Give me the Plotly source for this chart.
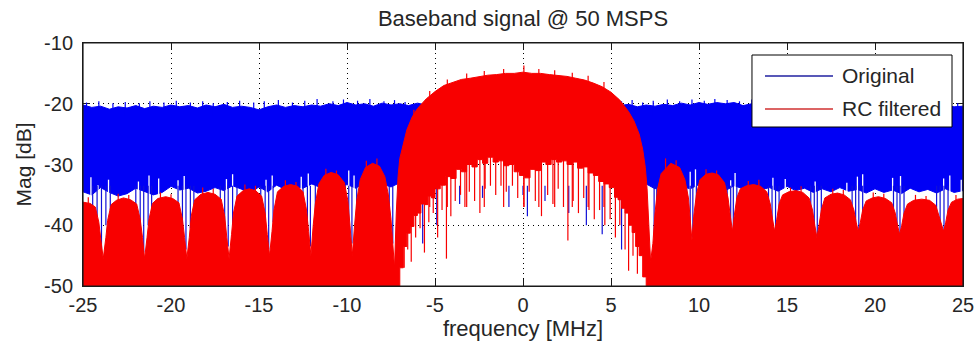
import plotly.graph_objects as go

# ---------------- data ----------------
blue_x = [-25.0, -24.5, -24.0, -23.5, -23.0, -22.5, -22.0, -21.5, -21.0, -20.5, -20.0, -19.5, -19.0, -18.5,
          -18.0, -17.5, -17.0, -16.5, -16.0, -15.5, -15.0, -14.5, -14.0, -13.5, -13.0, -12.5, -12.0, -11.5,
          -11.0, -10.5, -10.0, -9.5, -9.0, -8.5, -8.0, -7.5, -7.0, -6.5, -6.0, -5.5, -5.0, -4.5, -4.0, -3.5,
          -3.0, -2.5, -2.0, -1.5, -1.0, -0.5, 0.0, 0.5, 1.0, 1.5, 2.0, 2.5, 3.0, 3.5, 4.0, 4.5, 5.0, 5.5, 6.0,
          6.5, 7.0, 7.5, 8.0, 8.5, 9.0, 9.5, 10.0, 10.5, 11.0, 11.5, 12.0, 12.5, 13.0, 13.5, 14.0, 14.5, 15.0,
          15.5, 16.0, 16.5, 17.0, 17.5, 18.0, 18.5, 19.0, 19.5, 20.0, 20.5, 21.0, 21.5, 22.0, 22.5, 23.0, 23.5,
          24.0, 24.5, 25.0]

blue_top = [-20.2, -20.6, -20.4, -20.9, -20.5, -20.7, -20.3, -20.8, -20.4, -20.6, -20.2, -20.5, -20.3, -20.7,
            -20.2, -20.5, -20.1, -20.6, -20.4, -20.6, -21.0, -20.5, -20.2, -20.6, -20.3, -20.5, -20.2, -20.4,
            -20.0, -20.3, -19.8, -20.2, -20.0, -20.4, -19.9, -20.2, -20.0, -20.3, -19.9, -20.2, -19.8, -20.1,
            -20.3, -20.0, -20.4, -20.1, -20.3, -20.0, -20.2, -20.4, -20.0, -20.3, -20.1, -20.4, -20.0, -20.2,
            -20.3, -20.1, -20.4, -20.2, -20.0, -20.3, -20.1, -20.5, -20.2, -20.4, -20.1, -20.3, -19.9, -20.2,
            -19.8, -20.1, -19.8, -20.0, -19.8, -20.3, -20.0, -20.4, -20.2, -20.5, -20.3, -20.6, -20.2, -20.5,
            -20.1, -20.5, -20.3, -20.6, -20.4, -20.6, -20.2, -20.5, -20.4, -20.7, -20.3, -20.6, -20.5, -20.7,
            -20.3, -20.5, -20.4]

blue_bottom = [-34.5, -35.0, -33.8, -34.6, -35.2, -34.8, -33.9, -34.4, -35.0, -34.6, -33.6, -34.2, -33.9, -34.7,
               -34.4, -33.8, -34.3, -33.5, -34.0, -34.6, -33.7, -34.5, -33.4, -34.1, -33.6, -33.9, -33.2, -33.8,
               -33.5, -34.0, -33.3, -33.9, -33.0, -33.6, -33.2, -33.7, -33.0,
               -27.0, -27.5, -26.8, -27.2, -27.0, -26.6, -27.3, -27.0, -26.9, -27.4, -27.1, -26.8, -27.2, -27.0,
               -26.7, -27.3, -27.0, -26.9, -27.2, -27.0, -26.8, -27.3, -27.1, -26.9, -27.2, -27.0,
               -33.0,
               -33.2, -34.0, -33.5, -34.2, -33.6, -34.0, -33.3, -34.1, -33.7, -34.3, -33.5, -34.0, -33.4, -34.2,
               -33.8, -34.4, -33.6, -34.3, -33.9, -34.6, -34.0, -34.5, -33.8, -34.4, -34.1, -34.7, -34.0, -34.6,
               -34.2, -34.8, -33.9, -34.5, -34.1, -34.7, -34.0, -34.6, -34.3]

# fine upward noise bins on the top of the original trace
blue_peak_x = [-24.8, -24.1, -23.3, -22.6, -21.8, -21.2, -20.4, -19.7, -18.9, -18.2, -17.6, -16.8, -16.1,
               -15.3, -14.7, -13.9, -13.1, -12.4, -11.7, -10.8, -10.2, -9.4, -8.7, -7.9, -7.3, -6.7, 5.6,
               6.2, 6.8, 7.4, 8.2, 8.9, 9.6, 10.3, 10.9, 11.6, 12.3, 13.0, 13.7, 14.3, 15.1, 15.8, 16.6,
               17.3, 18.1, 18.8, 19.6, 20.3, 21.1, 21.8, 22.5, 23.3, 24.0, 24.7]
blue_peak_high = [-19.8, -19.6, -19.9, -19.7, -19.9, -19.6, -19.8, -19.5, -19.8, -19.6, -19.9, -19.7, -19.5,
                  -19.8, -19.6, -19.4, -19.8, -19.5, -19.2, -19.6, -19.3, -19.5, -19.2, -19.6, -19.4, -19.7,
                  -19.6, -19.4, -19.8, -19.5, -19.3, -19.6, -19.3, -19.5, -19.2, -19.4, -19.6, -19.3, -19.7,
                  -19.5, -19.8, -19.6, -19.9, -19.6, -19.8, -19.5, -19.9, -19.7, -19.6, -19.9, -19.7, -19.8,
                  -19.6, -19.9]

red_top_x = [-25.0, -24.6, -24.3, -24.1, -23.98, -23.85,
             -23.7, -23.6, -23.4, -23.1, -22.7, -22.3, -21.95, -21.75, -21.62, -21.5,
             -21.36, -21.25, -21.05, -20.75, -20.3, -19.9, -19.55, -19.35, -19.23, -19.1,
             -18.96, -18.85, -18.65, -18.3, -17.9, -17.5, -17.15, -16.95, -16.83, -16.7,
             -16.56, -16.45, -16.25, -15.9, -15.55, -15.2, -14.85, -14.65, -14.53, -14.4,
             -14.26, -14.15, -13.95, -13.6, -13.2, -12.8, -12.5, -12.3, -12.18, -12.05,
             -11.92, -11.8, -11.6, -11.3, -10.9, -10.5, -10.15, -9.95, -9.83, -9.7,
             -9.57, -9.45, -9.25, -8.95, -8.55, -8.15, -7.85, -7.65, -7.5, -7.38,
             -7.3, -7.2, -7.1, -7.0, -6.8, -6.6, -6.3, -6.0, -5.5, -5.0, -4.5, -4.0, -3.5, -3.0, -2.5, -2.0,
             -1.5, -1.0, -0.5, 0.0, 0.5, 1.0, 1.5, 2.0, 2.5, 3.0, 3.5, 4.0, 4.5, 5.0, 5.5, 6.0, 6.3, 6.6,
             6.8, 6.95, 7.05, 7.15, 7.25,
             7.38, 7.5, 7.65, 7.85, 8.4, 8.9, 9.2, 9.4, 9.5, 9.6,
             9.7, 9.85, 10.05, 10.4, 10.75, 11.1, 11.45, 11.65, 11.78, 11.9,
             12.0, 12.15, 12.35, 12.7, 13.1, 13.5, 13.85, 14.05, 14.18, 14.3,
             14.42, 14.55, 14.75, 15.1, 15.5, 15.9, 16.25, 16.45, 16.58, 16.7,
             16.82, 16.95, 17.15, 17.5, 17.87, 18.25, 18.6, 18.8, 18.93, 19.05,
             19.17, 19.3, 19.5, 19.85, 20.2, 20.6, 20.95, 21.15, 21.28, 21.4,
             21.52, 21.65, 21.85, 22.2, 22.65, 23.1, 23.45, 23.65, 23.78, 23.9,
             24.02, 24.15, 24.35, 24.7, 25.0]

red_top = [-36.2, -36.4, -37.0, -39.5, -42.5, -45.5,
           -42.0, -39.2, -36.6, -35.9, -35.5, -35.8, -36.5, -39.0, -42.0, -45.5,
           -42.0, -39.0, -36.4, -35.6, -35.3, -35.6, -36.3, -39.0, -42.0, -45.5,
           -42.0, -38.5, -35.8, -34.9, -34.6, -34.9, -35.7, -38.5, -42.0, -45.5,
           -41.5, -38.0, -35.2, -34.3, -34.0, -34.3, -35.2, -38.0, -41.5, -45.0,
           -41.0, -37.5, -34.5, -33.6, -33.3, -33.6, -34.5, -37.5, -41.0, -45.0,
           -40.0, -36.5, -33.2, -31.8, -31.3, -31.7, -33.0, -36.0, -40.0, -45.0,
           -40.0, -36.0, -32.5, -30.5, -29.8, -30.3, -32.0, -35.0, -39.0, -44.0,
           -47.0, -38.0, -32.0, -29.0, -26.5, -24.3, -22.2, -20.8, -19.2, -18.0, -17.0, -16.5, -16.0, -15.8,
           -15.5, -15.3, -15.2, -15.0, -15.0, -14.8, -15.0, -15.0, -15.2, -15.3, -15.5, -15.8, -16.1, -16.6,
           -17.2, -18.1, -19.4, -21.3, -22.8, -25.0,
           -27.5, -30.5, -34.0, -40.0, -46.0,
           -43.0, -38.0, -34.0, -31.5, -29.8, -30.5, -32.5, -35.5, -39.0, -42.5,
           -38.5, -35.0, -32.5, -31.6, -31.4, -31.7, -33.0, -35.5, -38.5, -41.0,
           -38.5, -35.5, -34.0, -33.5, -33.3, -33.6, -34.5, -36.5, -39.0, -41.0,
           -39.0, -36.5, -35.0, -34.5, -34.3, -34.6, -35.5, -37.5, -40.0, -42.0,
           -40.0, -37.5, -35.5, -34.9, -34.7, -35.0, -35.8, -37.5, -39.5, -41.0,
           -39.5, -37.5, -36.0, -35.5, -35.3, -35.6, -36.3, -38.0, -40.0, -41.5,
           -40.0, -38.0, -36.5, -35.9, -35.7, -35.9, -36.7, -38.5, -40.0, -41.0,
           -39.5, -37.5, -36.2, -35.7, -35.6]

# lower edge of the RC filtered trace (white dome under the main lobe)
red_low_x = [-25.0, -7.18, -7.0, -6.8, -6.6, -6.4, -6.2, -6.0, -5.8, -5.6, -5.4, -5.2, -5.0, -4.7, -4.4, -4.1,
             -3.8, -3.5, -3.2, -2.9, -2.6, -2.3, -2.0, -1.7, -1.4, -1.1, -0.8, -0.5, -0.2, 0.1, 0.4, 0.7,
             1.0, 1.3, 1.6, 1.9, 2.2, 2.5, 2.8, 3.1, 3.4, 3.7, 4.0, 4.3, 4.6, 4.9, 5.2, 5.4, 5.6, 5.8, 6.0,
             6.2, 6.4, 6.6, 6.8, 7.0, 25.0]
red_low = [-55.0, -50.5, -47.0, -43.5, -41.3, -40.2, -38.4, -38.0, -36.5, -36.6, -35.2, -35.5, -34.0, -33.4,
           -32.0, -32.3, -30.8, -31.2, -30.0, -30.4, -29.2, -29.8, -28.8, -29.6, -29.4, -30.2, -30.0, -31.2,
           -31.8, -32.2, -30.8, -31.0, -29.6, -30.0, -29.2, -29.6, -29.4, -30.0, -29.6, -30.6, -30.4, -31.4,
           -31.8, -32.8, -33.2, -33.8, -35.4, -35.8, -37.2, -38.0, -40.0, -41.2, -43.5, -45.0, -48.5, -50.5,
           -55.0]

# single-bin dips of the original trace (into the white notches / dome)
blue_dip_x = [-24.45, -24.2, -23.95, -23.7, -23.45, -22.0, -21.75, -21.55, -21.3, -21.1, -19.6, -19.35, -19.15,
              -18.9, -18.7, -17.2, -16.95, -16.75, -16.5, -16.25, -14.9, -14.65, -14.45, -14.2, -12.5, -12.25,
              -12.08, -11.8, -10.1, -9.9, -9.72, -9.45, -7.9, -7.6, -7.4,
              -5.7, -4.9, -3.6, -2.3, -0.8, 0.0, 0.25, 1.25, 2.6, 3.6, 4.5, 5.6,
              7.45, 7.6, 9.3, 9.5, 9.65, 9.85, 11.6, 11.8, 11.95, 12.15, 13.95, 14.15, 14.35, 14.55, 16.35,
              16.55, 16.72, 16.95, 18.7, 18.9, 19.08, 19.3, 21.05, 21.25, 21.42, 21.65, 23.5, 23.7, 23.92, 24.15]
blue_dip_low = [-41.0, -38.5, -44.0, -40.0, -37.5, -38.0, -41.5, -44.5, -40.0, -37.5, -38.5, -42.0, -44.0,
                -40.5, -37.5, -38.0, -41.0, -43.5, -40.0, -37.5, -37.5, -41.0, -44.0, -39.5, -37.5, -40.5,
                -43.5, -38.5, -36.5, -40.0, -43.0, -38.5, -36.0, -39.0, -43.0,
                -43.0, -40.0, -36.5, -35.5, -37.0, -35.0, -38.5, -36.0, -38.0, -40.0, -41.5, -44.0,
                -42.0, -38.0, -37.0, -40.5, -42.0, -38.0, -37.5, -40.0, -41.5, -37.5, -37.0, -40.0, -42.0,
                -38.0, -38.0, -40.5, -42.0, -38.5, -37.5, -40.0, -41.5, -38.0, -38.0, -40.5, -42.0, -38.5,
                -38.0, -40.0, -42.0, -38.0]

# upward excursions of the original trace's lower edge (white gaps)
blue_gap_x = [-24.55, -24.15, -23.55, -21.85, -21.25, -20.7, -19.6, -19.25, -16.85, -16.5, -14.6, -14.25,
              -12.6, -12.2, -9.9, -9.6, 9.5, 9.8, 11.8, 12.05, 14.2, 14.9, 16.6, 18.4, 19.0, 19.3, 21.0,
              21.45, 23.9, 24.25, 24.9]
blue_gap_high = [-32.1, -33.4, -32.5, -32.8, -31.8, -32.3, -32.6, -31.9, -32.4, -31.6, -32.5, -31.8,
                 -32.0, -31.5, -31.0, -31.8, -31.2, -30.8, -32.6, -31.4, -32.2, -32.4, -32.8, -33.0, -32.0,
                 -31.6, -32.2, -31.9, -32.3, -31.8, -32.5]

# single-bin dips of the filtered trace below the main lobe
red_dip_x = [-6.75, -6.55, -6.35, -6.1, -5.85, -5.6, -5.35, -5.1, -4.85, -4.6, -4.35, -4.1, -3.85, -3.55,
             -3.3, -3.05, -2.75, -2.45, -2.15, -1.85, -1.55, -1.25, -0.95, -0.6, -0.3, 0.05, 0.35, 0.7, 1.05,
             1.4, 1.7, 2.0, 2.3, 2.55, 2.85, 3.15, 3.45, 3.75, 4.05, 4.35, 4.65, 4.95, 5.25, 5.5, 5.8, 6.0,
             6.25, 6.5]
red_dip_low = [-47.0, -44.0, -46.0, -42.0, -40.5, -44.5, -39.5, -38.0, -42.0, -37.5, -45.5, -38.5, -36.0,
               -35.0, -37.0, -34.5, -36.0, -38.0, -34.0, -33.5, -35.0, -33.5, -34.5, -33.5, -35.5, -37.0,
               -34.5, -36.0, -38.5, -35.0, -36.5, -34.0, -37.0, -42.5, -36.0, -38.0, -35.5, -37.5, -39.0,
               -37.5, -40.0, -39.0, -42.0, -40.0, -44.0, -47.5, -45.0, -48.0]

# single-bin peaks of the filtered trace (jagged top of main lobe and side lobes)
red_peak_x = [-6.2, -5.3, -4.3, -3.2, -2.2, -1.1, 0.05, 0.9, 1.8, 2.8, 3.7, 4.6,
              -24.7, -23.0, -22.4, -20.6, -20.0, -18.2, -17.6, -15.8, -15.2, -13.5, -12.9, -11.2, -10.6,
              -8.9, -8.3, 8.1, 8.7, 10.4, 11.0, 12.8, 13.4, 15.2, 15.8, 17.6, 18.2, 19.9, 20.5, 22.3,
              22.9, 24.6]
red_peak_high = [-21.0, -17.9, -16.0, -15.0, -14.6, -14.3, -13.7, -14.3, -14.5, -14.9, -15.4, -16.4,
                 -35.4, -34.8, -35.0, -34.6, -34.9, -33.8, -34.0, -33.3, -33.5, -32.6, -32.9, -30.7, -31.0,
                 -29.4, -29.0, -29.0, -29.3, -30.8, -31.0, -32.7, -32.5, -33.8, -33.6, -34.0, -34.2, -34.6,
                 -34.8, -35.0, -35.2, -35.0]

x_ticks = [-25, -20, -15, -10, -5, 0, 5, 10, 15, 20, 25]
y_ticks = [-50, -40, -30, -20, -10]
series_names = ["Original", "RC filtered"]

# ---------------- styling ----------------
BLUE = "#0000F5"
RED = "#F80000"
FONT = "Liberation Sans, Arial, sans-serif"
TXT = "#262626"


def segments(xs, lows, highs):
    X, Y = [], []
    for i, x in enumerate(xs):
        lo = lows[i] if isinstance(lows, list) else lows
        hi = highs[i] if isinstance(highs, list) else highs
        X += [x, x, None]
        Y += [lo, hi, None]
    return X, Y


fig = go.Figure()

# Original (blue)
fig.add_trace(go.Scatter(x=blue_x, y=blue_bottom, mode="lines", line=dict(color=BLUE, width=1),
                         showlegend=False, hoverinfo="skip"))
fig.add_trace(go.Scatter(x=blue_x, y=blue_top, mode="lines", fill="tonexty", fillcolor=BLUE,
                         line=dict(color=BLUE, width=1), name=series_names[0], showlegend=False))
bx, by = segments(blue_peak_x, -22.0, blue_peak_high)
fig.add_trace(go.Scatter(x=bx, y=by, mode="lines", line=dict(color=BLUE, width=1.2),
                         showlegend=False, hoverinfo="skip"))
gx, gy = segments(blue_gap_x, -36.0, blue_gap_high)
fig.add_trace(go.Scatter(x=gx, y=gy, mode="lines", line=dict(color="white", width=1.3),
                         showlegend=False, hoverinfo="skip"))
dx, dy = segments(blue_dip_x, blue_dip_low, -33.5)
fig.add_trace(go.Scatter(x=dx, y=dy, mode="lines", line=dict(color="#1010D8", width=1.2),
                         showlegend=False, hoverinfo="skip"))

# RC filtered (red)
fig.add_trace(go.Scatter(x=red_low_x, y=red_low, mode="lines", line=dict(color=RED, width=1, shape="hv"),
                         showlegend=False, hoverinfo="skip"))
fig.add_trace(go.Scatter(x=red_top_x, y=red_top, mode="lines", fill="tonexty", fillcolor=RED,
                         line=dict(color=RED, width=1), name=series_names[1], showlegend=False))
rx, ry = segments(red_dip_x, red_dip_low, -28.0)
fig.add_trace(go.Scatter(x=rx, y=ry, mode="lines", line=dict(color=RED, width=1.2),
                         showlegend=False, hoverinfo="skip"))
px_, py_ = segments(red_peak_x, -37.0, red_peak_high)
fig.add_trace(go.Scatter(x=px_, y=py_, mode="lines", line=dict(color=RED, width=1.2),
                         showlegend=False, hoverinfo="skip"))

# legend (MATLAB style box)
L, R, B, T = 0.7602, 0.9875, 0.6543, 0.9506
shapes = [
    dict(type="rect", xref="paper", yref="paper", x0=L, x1=R, y0=B, y1=T,
         line=dict(color="black", width=1), fillcolor="white", layer="above"),
    dict(type="line", xref="paper", yref="paper", x0=0.7750, x1=0.8523, y0=0.8642, y1=0.8642,
         line=dict(color="#2020A0", width=1.5), layer="above"),
    dict(type="line", xref="paper", yref="paper", x0=0.7750, x1=0.8523, y0=0.7284, y1=0.7284,
         line=dict(color="#D03030", width=1.5), layer="above"),
    # axes box
    dict(type="rect", xref="paper", yref="paper", x0=0, x1=1, y0=0, y1=1,
         line=dict(color="#1a1a1a", width=1.2), layer="above"),
]
annotations = [
    dict(text=series_names[0], xref="paper", yref="paper", x=0.8602, y=0.8642, xanchor="left",
         yanchor="middle", showarrow=False, font=dict(family=FONT, size=21, color=TXT)),
    dict(text=series_names[1], xref="paper", yref="paper", x=0.8602, y=0.7284, xanchor="left",
         yanchor="middle", showarrow=False, font=dict(family=FONT, size=21, color=TXT)),
]

axis_common = dict(
    showgrid=True, gridcolor="black", gridwidth=1, griddash="1px,4px",
    ticks="inside", ticklen=7, tickcolor="#1a1a1a", tickwidth=1,
    showline=True, linecolor="#1a1a1a", linewidth=1, mirror="ticks",
    zeroline=False, layer="below traces", automargin=False,
    tickfont=dict(family=FONT, size=20, color=TXT),
)

fig.update_layout(
    width=978, height=351,
    margin=dict(l=83, r=15, t=43, b=65, autoexpand=False),
    paper_bgcolor="white", plot_bgcolor="white",
    title=dict(text="Baseband signal @ 50 MSPS", x=0.5, xref="paper", xanchor="center",
               y=0.948, yref="container", yanchor="middle",
               font=dict(family=FONT, size=22, color=TXT)),
    xaxis=dict(range=[-25, 25], tickvals=x_ticks, ticktext=[str(v) for v in x_ticks],
               title=dict(text="frequency [MHz]", font=dict(family=FONT, size=22, color=TXT), standoff=5),
               ticklabelstandoff=1, **axis_common),
    yaxis=dict(range=[-50, -10], tickvals=y_ticks, ticktext=[str(v) for v in y_ticks],
               title=dict(text="Mag [dB]", font=dict(family=FONT, size=21, color=TXT), standoff=6),
               ticklabelstandoff=5, **axis_common),
    shapes=shapes, annotations=annotations, showlegend=False,
)

fig.write_html("out.html", config={"displayModeBar": False},
               post_script="document.body.style.margin='0';document.body.style.padding='0';")
